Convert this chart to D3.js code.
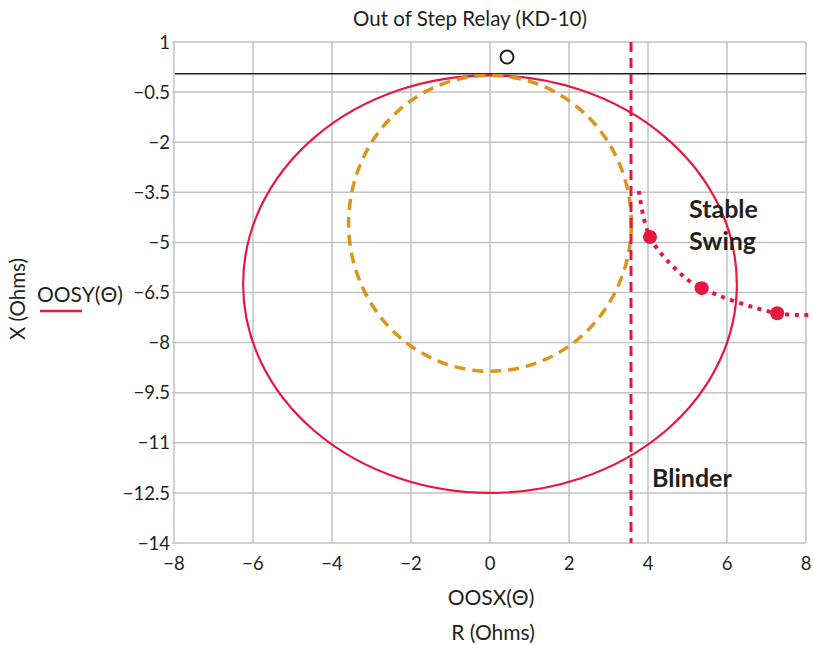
<!DOCTYPE html>
<html><head><meta charset="utf-8">
<script src="https://cdn.jsdelivr.net/npm/d3@7"></script>
<style>body{margin:0;background:#fff}svg{display:block}text{font-family:Lato,"Open Sans",sans-serif;fill:#231f20}</style>
</head><body><svg id="c" width="813" height="645"></svg>
<script>
// ---- data ----
const xTicks = [-8,-6,-4,-2,0,2,4,6,8];
const yTicks = [1,-0.5,-2,-3.5,-5,-6.5,-8,-9.5,-11,-12.5,-14];
const yTickLabels = ["1","\u22120.5","\u22122","\u22123.5","\u22125","\u22126.5","\u22128","\u22129.5","\u221211","\u221212.5","\u221214"];
const xTickLabels = ["\u22128","\u22126","\u22124","\u22122","0","2","4","6","8"];
// circle characteristics: [centerR, centerX, radiusR, radiusX]
const oosCircle = [0, -6.25, 6.25, 6.25];
const innerCircle = [0, -4.43, 3.58, 4.43];
const horizLineY = [0.05];
const blinderR = [3.57];
const swingLine = [[3.77,-3.46],[4.05,-4.84],[4.81,-5.92],[5.36,-6.37],[7.27,-7.12],[8.18,-7.17]];
const swingMarkers = [[4.05,-4.84],[5.36,-6.37],[7.27,-7.12]];
const originMarker = [[0.43,0.55]];

const red = "#e8173f", orange = "#d8961c", grid = "#c2c2c4";
const svg = d3.select("#c");
const x = d3.scaleLinear().domain([-8,8]).range([174,806]);
const y = d3.scaleLinear().domain([1,-14]).range([42,543]);

// grid
svg.append("g").selectAll("line").data(xTicks).join("line")
  .attr("x1",d=>x(d)).attr("x2",d=>x(d)).attr("y1",y(1)).attr("y2",y(-14))
  .attr("stroke",grid).attr("stroke-width",1.5);
svg.append("g").selectAll("line").data(yTicks).join("line")
  .attr("x1",x(-8)-2).attr("x2",x(8)).attr("y1",d=>y(d)).attr("y2",d=>y(d))
  .attr("stroke",grid).attr("stroke-width",1.5);

// tick labels
svg.append("g").selectAll("text").data(yTicks).join("text")
  .attr("x",x(-8)-4).attr("y",d=>y(d)).attr("dy","0.36em").attr("text-anchor","end")
  .attr("font-size",18.5).text((d,i)=>yTickLabels[i]);
svg.append("g").selectAll("text").data(xTicks).join("text")
  .attr("x",d=>x(d)).attr("y",570).attr("text-anchor","middle")
  .attr("font-size",18.5).text((d,i)=>xTickLabels[i]);

// horizontal line
svg.append("line").attr("x1",x(-8)+1).attr("x2",x(8)).attr("y1",y(horizLineY[0])).attr("y2",y(horizLineY[0]))
  .attr("stroke","#231f20").attr("stroke-width",1.5);

// ellipses
svg.append("ellipse").attr("cx",x(oosCircle[0])).attr("cy",y(oosCircle[1]))
  .attr("rx",x(oosCircle[2])-x(0)).attr("ry",y(0)-y(oosCircle[3]))
  .attr("fill","none").attr("stroke",red).attr("stroke-width",2.2);
svg.append("ellipse").attr("cx",x(innerCircle[0])).attr("cy",y(innerCircle[1]))
  .attr("rx",x(innerCircle[2])-x(0)).attr("ry",y(0)-y(innerCircle[3]))
  .attr("fill","none").attr("stroke",orange).attr("stroke-width",3.5).attr("stroke-dasharray","11,7");

// blinder
svg.append("line").attr("x1",x(blinderR[0])).attr("x2",x(blinderR[0])).attr("y1",y(1)).attr("y2",y(-14))
  .attr("stroke",red).attr("stroke-width",3).attr("stroke-dasharray","10,6");

// swing
svg.append("path").datum(swingLine)
  .attr("d",d3.line().x(d=>x(d[0])).y(d=>y(d[1])).curve(d3.curveCatmullRom.alpha(0.5)))
  .attr("fill","none").attr("stroke",red).attr("stroke-width",4).attr("stroke-dasharray","4,5.5");
svg.append("g").selectAll("circle").data(swingMarkers).join("circle")
  .attr("cx",d=>x(d[0])).attr("cy",d=>y(d[1])).attr("r",7).attr("fill",red);
svg.append("g").selectAll("circle").data(originMarker).join("circle")
  .attr("cx",d=>x(d[0])).attr("cy",d=>y(d[1])).attr("r",6.5).attr("fill","none").attr("stroke","#231f20").attr("stroke-width",2);

// annotations
svg.append("text").attr("x",689).attr("y",218).attr("font-size",25).attr("font-weight","bold").text("Stable");
svg.append("text").attr("x",689).attr("y",250).attr("font-size",25).attr("font-weight","bold").text("Swing");
svg.append("text").attr("x",652).attr("y",487).attr("font-size",25).attr("font-weight","bold").text("Blinder");

// titles
svg.append("text").attr("x",470).attr("y",26).attr("text-anchor","middle").attr("font-size",20.5).text("Out of Step Relay (KD-10)");
svg.append("text").attr("x",491).attr("y",605).attr("text-anchor","middle").attr("font-size",21).text("OOSX(\u0398)");
svg.append("text").attr("x",493).attr("y",640).attr("text-anchor","middle").attr("font-size",21).text("R (Ohms)");
svg.append("text").attr("transform","translate(25,299) rotate(-90)").attr("text-anchor","middle").attr("font-size",20.5).text("X (Ohms)");
svg.append("text").attr("x",37).attr("y",302).attr("font-size",21).text("OOSY(\u0398)");
svg.append("line").attr("x1",40).attr("x2",82).attr("y1",311).attr("y2",311).attr("stroke",red).attr("stroke-width",2.5);
</script></body></html>
